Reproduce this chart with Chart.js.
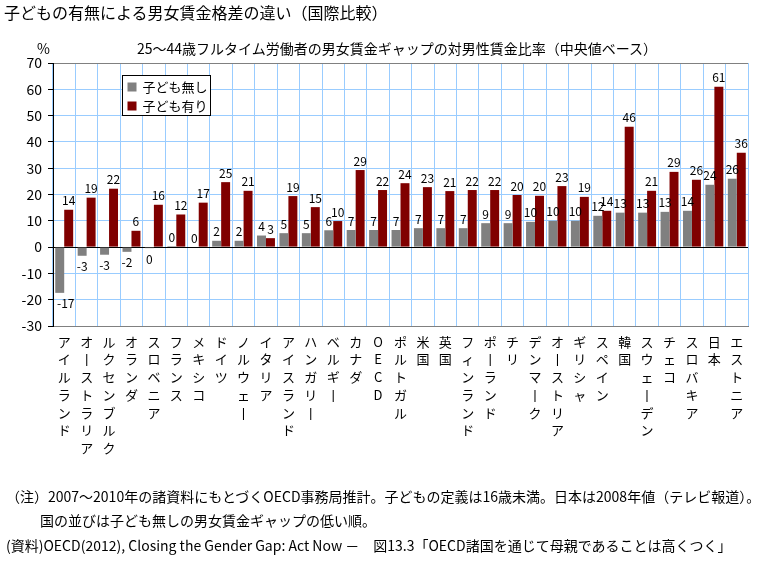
<!DOCTYPE html>
<html>
<head>
<meta charset="utf-8">
<script src="https://cdn.jsdelivr.net/npm/chart.js@4.4.1/dist/chart.umd.min.js"></script>
<style>
  body { margin: 0; background: #fff; font-family: "Noto Sans CJK JP", sans-serif; color: #000; }
  #wrap { position: relative; width: 773px; height: 573px; overflow: hidden; }
  canvas { position: absolute; left: 0; top: 0; }
  .txt { position: absolute; white-space: nowrap; line-height: 1; }
</style>
</head>
<body>
<div id="wrap">
  <canvas id="chart" width="773" height="573"></canvas>
  <div class="txt" style="left:4px; top:4px; font-size:16px;">子どもの有無による男女賃金格差の違い（国際比較）</div>
  <div class="txt" style="left:37px; top:41px; font-size:14px;">%</div>
  <div class="txt" style="left:137px; top:41px; font-size:14px;">25～44歳フルタイム労働者の男女賃金ギャップの対男性賃金比率（中央値ベース）</div>
  <div class="txt" style="left:6px; top:489px; font-size:14px;">（注）2007～2010年の諸資料にもとづくOECD事務局推計。子どもの定義は16歳未満。日本は2008年値（テレビ報道）。</div>
  <div class="txt" style="left:40px; top:513px; font-size:14px;">国の並びは子ども無しの男女賃金ギャップの低い順。</div>
  <div class="txt" style="left:6px; top:538px; font-size:14px;">(資料)OECD(2012), Closing the Gender Gap: Act Now －　図13.3「OECD諸国を通じて母親であることは高くつく」</div>
</div>
<script>
// countries, sorted by the no-children gap
const countries = [
  'アイルランド', 'オーストラリア', 'ルクセンブルク', 'オランダ', 'スロベニア', 'フランス',
  'メキシコ', 'ドイツ', 'ノルウェー', 'イタリア', 'アイスランド', 'ハンガリー', 'ベルギー',
  'カナダ', 'OECD', 'ポルトガル', '米国', '英国', 'フィンランド', 'ポーランド', 'チリ',
  'デンマーク', 'オーストリア', 'ギリシャ', 'スペイン', '韓国', 'スウェーデン', 'チェコ',
  'スロバキア', '日本', 'エストニア'
];
const noChildren = [
  -17.4, -3.3, -2.9, -1.8, -0.4, 0.4, 0, 2.4, 2.4, 4.4, 5.3, 5.3, 6.4,
  6.5, 6.5, 6.5, 7.2, 7.2, 7.2, 9.1, 9.1, 9.6, 10.0, 10.0, 11.9, 13.1, 13.1, 13.4,
  13.8, 23.7, 26.0
];
const withChildren = [
  14.2, 18.8, 22.2, 6.2, 16.1, 12.4, 16.9, 24.7, 21.4, 3.4, 19.4, 15.2, 9.9,
  29.3, 21.7, 24.3, 22.8, 21.3, 21.7, 21.7, 19.8, 19.5, 23.2, 19.1, 13.8, 45.8, 21.4, 28.6,
  25.6, 61.0, 35.9
];
const seriesNames = ['子ども無し', '子ども有り'];
const yMin = -30, yMax = 70, yStep = 10;

Chart.defaults.font.family = '"Noto Sans CJK JP", sans-serif';
Chart.defaults.color = '#000';

// vertical labels: one character per line, long vowel turned upright
const verticalLabels = countries.map(s => Array.from(s).map(c => c === 'ー' ? '丨' : c));

// numbers over / under each bar
const barLabels = {
  id: 'barLabels',
  afterDatasetsDraw(chart) {
    const ctx = chart.ctx;
    ctx.save();
    ctx.font = '12px "Noto Sans CJK JP", sans-serif';
    ctx.fillStyle = '#000';
    ctx.textAlign = 'center';
    chart.data.datasets.forEach((ds, i) => {
      chart.getDatasetMeta(i).data.forEach((bar, j) => {
        const v = ds.data[j];
        const txt = String(Math.round(v));
        // keep labels clear of the y axis
        const half = ctx.measureText(txt).width / 2;
        const x = Math.max(bar.x, chart.chartArea.left + 4 + half);
        if (v >= 0) {
          ctx.textBaseline = 'bottom';
          ctx.fillText(txt, x, bar.y - 3);
        } else {
          ctx.textBaseline = 'top';
          ctx.fillText(txt, x, bar.y + 5);
        }
      });
    });
    ctx.restore();
  }
};

// boxed legend inside the plot
const boxLegend = {
  id: 'boxLegend',
  afterDraw(chart) {
    const ctx = chart.ctx;
    const x = chart.chartArea.left + 69.5;
    const y = chart.chartArea.top + 12.5;
    ctx.save();
    ctx.fillStyle = '#fff';
    ctx.fillRect(x, y, 88, 40);
    ctx.strokeStyle = '#000';
    ctx.lineWidth = 1;
    ctx.strokeRect(x, y, 88, 40);
    ctx.font = '13px "Noto Sans CJK JP", sans-serif';
    ctx.textBaseline = 'middle';
    chart.data.datasets.forEach((ds, i) => {
      const rowY = y + 11 + i * 19;
      ctx.fillStyle = ds.backgroundColor;
      ctx.fillRect(x + 5, rowY - 4, 9, 9);
      ctx.fillStyle = '#000';
      ctx.fillText(ds.label, x + 20, rowY + 1);
    });
    ctx.restore();
  }
};

new Chart(document.getElementById('chart'), {
  type: 'bar',
  data: {
    labels: verticalLabels,
    datasets: [
      {
        label: seriesNames[0],
        data: noChildren,
        backgroundColor: '#808080',
        categoryPercentage: 0.8,
        barPercentage: 1.0,
      },
      {
        label: seriesNames[1],
        data: withChildren,
        backgroundColor: '#800000',
        categoryPercentage: 0.8,
        barPercentage: 1.0,
      }
    ]
  },
  options: {
    responsive: false,
    animation: false,
    layout: { padding: { top: 63, right: 25, bottom: 107, left: 0 } },
    plugins: {
      legend: { display: false },
      tooltip: { enabled: false }
    },
    scales: {
      x: {
        afterFit: s => { s.height = 140; },
        border: { color: '#808080' },
        grid: {
          drawTicks: false,
          color: c => c.index === countries.length ? '#808080' : '#99ccff'
        },
        ticks: {
          autoSkip: false,
          maxRotation: 0,
          minRotation: 0,
          padding: 7,
          font: { size: 13, lineHeight: '17.7px' }
        }
      },
      y: {
        min: yMin,
        max: yMax,
        afterFit: s => { s.width = 53; },
        border: { color: '#000' },
        grid: {
          tickLength: 5,
          tickColor: '#000',
          color: c => c.tick.value === 0 ? '#000' : (c.tick.value === yMax ? '#808080' : '#99ccff')
        },
        ticks: {
          stepSize: yStep,
          padding: 6,
          font: { size: 14 }
        }
      }
    }
  },
  plugins: [barLabels, boxLegend]
});
</script>
</body>
</html>
